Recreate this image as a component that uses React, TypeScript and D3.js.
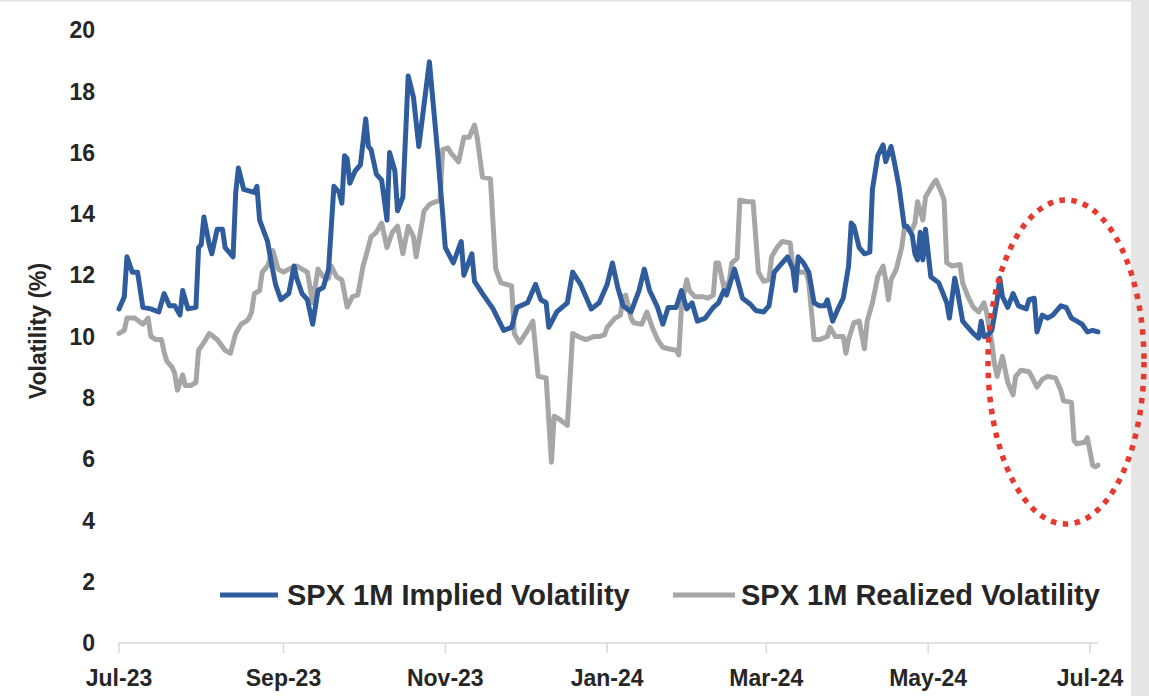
import React from "react";
import * as d3 from "d3";

const impliedVol: [string, number][] = [
  ["2023-07-01",10.9],["2023-07-03",11.3],["2023-07-04",12.6],["2023-07-06",12.1],["2023-07-08",12.1],["2023-07-10",10.95],["2023-07-13",10.9],["2023-07-16",10.8],["2023-07-18",11.4],["2023-07-20",11.0],["2023-07-22",11.0],["2023-07-24",10.7],["2023-07-25",11.5],["2023-07-27",10.9],["2023-07-30",10.95],["2023-07-31",12.9],
  ["2023-08-01",13.0],["2023-08-02",13.9],["2023-08-04",13.0],["2023-08-05",12.7],["2023-08-07",13.5],["2023-08-09",13.5],["2023-08-10",12.9],["2023-08-13",12.6],["2023-08-14",14.7],["2023-08-15",15.5],["2023-08-17",14.8],["2023-08-21",14.7],["2023-08-22",14.9],["2023-08-23",13.8],["2023-08-26",13.1],["2023-08-27",12.6],["2023-08-29",11.7],["2023-08-31",11.2],
  ["2023-09-03",11.4],["2023-09-05",12.3],["2023-09-06",11.9],["2023-09-08",11.4],["2023-09-10",11.2],["2023-09-12",10.4],["2023-09-14",11.5],["2023-09-16",11.6],["2023-09-18",12.2],["2023-09-20",14.9],["2023-09-22",14.7],["2023-09-23",14.35],["2023-09-24",15.9],["2023-09-25",15.8],["2023-09-26",15.0],["2023-09-28",15.4],["2023-09-30",15.6],
  ["2023-10-02",17.1],["2023-10-03",16.2],["2023-10-04",16.1],["2023-10-06",15.3],["2023-10-08",15.1],["2023-10-10",13.8],["2023-10-11",16.0],["2023-10-13",15.4],["2023-10-14",14.1],["2023-10-16",14.55],["2023-10-18",18.5],["2023-10-20",17.8],["2023-10-22",16.2],["2023-10-26",18.96],["2023-10-27",18.0],["2023-10-29",16.1],["2023-10-31",14.0],
  ["2023-11-01",12.9],["2023-11-04",12.4],["2023-11-07",13.1],["2023-11-08",12.0],["2023-11-11",12.7],["2023-11-12",11.8],["2023-11-15",11.4],["2023-11-19",10.9],["2023-11-23",10.2],["2023-11-26",10.3],["2023-11-28",10.95],
  ["2023-12-02",11.1],["2023-12-05",11.7],["2023-12-07",11.2],["2023-12-09",11.1],["2023-12-10",10.3],["2023-12-13",10.8],["2023-12-17",11.1],["2023-12-19",12.1],["2023-12-22",11.7],["2023-12-24",11.3],["2023-12-26",10.9],["2023-12-29",11.1],["2023-12-31",11.5],
  ["2024-01-01",11.7],["2024-01-03",12.4],["2024-01-05",11.6],["2024-01-07",11.0],["2024-01-10",10.8],["2024-01-13",11.5],["2024-01-15",12.2],["2024-01-17",11.5],["2024-01-20",10.95],["2024-01-22",10.4],["2024-01-24",10.95],["2024-01-27",10.95],["2024-01-29",11.5],["2024-01-31",10.9],
  ["2024-02-02",11.1],["2024-02-04",10.5],["2024-02-07",10.6],["2024-02-10",10.95],["2024-02-12",11.1],["2024-02-14",11.5],["2024-02-15",11.35],["2024-02-18",12.2],["2024-02-21",11.25],["2024-02-24",11.05],["2024-02-26",10.85],["2024-02-29",10.8],
  ["2024-03-02",11.0],["2024-03-04",12.1],["2024-03-07",12.4],["2024-03-09",12.6],["2024-03-11",12.2],["2024-03-12",11.5],["2024-03-13",12.6],["2024-03-15",12.4],["2024-03-17",12.1],["2024-03-19",11.1],["2024-03-21",11.0],["2024-03-23",11.0],["2024-03-24",11.2],["2024-03-26",10.5],["2024-03-28",10.9],["2024-03-30",11.25],
  ["2024-04-01",12.3],["2024-04-02",13.7],["2024-04-03",13.6],["2024-04-05",12.9],["2024-04-07",12.7],["2024-04-09",12.75],["2024-04-10",14.8],["2024-04-12",15.9],["2024-04-14",16.25],["2024-04-15",15.7],["2024-04-17",16.2],["2024-04-18",15.8],["2024-04-20",14.9],["2024-04-22",13.6],["2024-04-23",13.6],["2024-04-25",13.3],["2024-04-26",12.7],["2024-04-27",12.5],["2024-04-28",13.4],["2024-04-29",12.5],["2024-04-30",13.5],
  ["2024-05-02",11.95],["2024-05-05",11.75],["2024-05-08",11.1],["2024-05-09",10.6],["2024-05-11",11.9],["2024-05-12",11.5],["2024-05-14",10.5],["2024-05-16",10.3],["2024-05-18",10.1],["2024-05-20",9.95],["2024-05-21",10.5],["2024-05-22",10.0],["2024-05-23",10.0],["2024-05-25",10.2],["2024-05-27",11.2],["2024-05-28",11.9],["2024-05-29",11.3],["2024-05-31",10.95],
  ["2024-06-02",11.4],["2024-06-04",11.0],["2024-06-07",10.9],["2024-06-08",11.2],["2024-06-10",11.25],["2024-06-11",10.15],["2024-06-13",10.7],["2024-06-15",10.6],["2024-06-17",10.7],["2024-06-19",10.9],["2024-06-20",11.0],["2024-06-22",10.95],["2024-06-24",10.6],["2024-06-26",10.5],["2024-06-28",10.4],["2024-06-30",10.15],
  ["2024-07-02",10.2],["2024-07-04",10.15],
];

const realizedVol: [string, number][] = [
  ["2023-07-01",10.1],["2023-07-03",10.2],["2023-07-04",10.6],["2023-07-07",10.6],["2023-07-10",10.4],["2023-07-12",10.6],["2023-07-13",10.0],["2023-07-15",9.9],["2023-07-17",9.9],["2023-07-18",9.5],["2023-07-19",9.2],["2023-07-21",9.0],["2023-07-22",8.8],["2023-07-23",8.25],["2023-07-25",8.75],["2023-07-26",8.4],["2023-07-28",8.4],["2023-07-30",8.5],["2023-07-31",9.55],
  ["2023-08-02",9.8],["2023-08-04",10.1],["2023-08-07",9.9],["2023-08-10",9.55],["2023-08-12",9.45],["2023-08-14",10.1],["2023-08-16",10.4],["2023-08-18",10.5],["2023-08-19",10.6],["2023-08-20",10.8],["2023-08-21",11.4],["2023-08-23",11.5],["2023-08-24",12.1],["2023-08-26",12.3],["2023-08-28",12.8],["2023-08-30",12.2],
  ["2023-09-01",12.1],["2023-09-03",12.2],["2023-09-06",12.3],["2023-09-08",12.2],["2023-09-10",12.1],["2023-09-12",11.1],["2023-09-14",12.2],["2023-09-16",11.95],["2023-09-18",11.9],["2023-09-19",12.3],["2023-09-21",11.95],["2023-09-23",11.85],["2023-09-25",10.96],["2023-09-27",11.3],["2023-09-29",11.35],
  ["2023-10-01",12.3],["2023-10-02",12.6],["2023-10-04",13.25],["2023-10-06",13.4],["2023-10-08",13.7],["2023-10-10",12.9],["2023-10-12",13.4],["2023-10-14",13.6],["2023-10-16",12.7],["2023-10-18",13.6],["2023-10-20",13.25],["2023-10-21",12.6],["2023-10-24",14.1],["2023-10-26",14.3],["2023-10-27",14.35],["2023-10-30",14.45],["2023-10-31",16.1],
  ["2023-11-02",16.15],["2023-11-03",16.0],["2023-11-06",15.7],["2023-11-08",16.5],["2023-11-10",16.5],["2023-11-12",16.9],["2023-11-13",16.5],["2023-11-15",15.2],["2023-11-18",15.15],["2023-11-20",12.2],["2023-11-22",11.75],["2023-11-26",11.65],["2023-11-27",10.1],["2023-11-29",9.8],
  ["2023-12-02",10.2],["2023-12-04",10.5],["2023-12-06",8.7],["2023-12-09",8.65],["2023-12-11",5.9],["2023-12-12",7.4],["2023-12-14",7.3],["2023-12-17",7.1],["2023-12-19",10.1],["2023-12-21",10.0],["2023-12-24",9.9],["2023-12-27",10.0],["2023-12-29",10.0],["2023-12-31",10.05],
  ["2024-01-01",10.3],["2024-01-04",10.6],["2024-01-06",10.7],["2024-01-07",11.3],["2024-01-08",11.35],["2024-01-10",10.6],["2024-01-11",10.45],["2024-01-14",10.4],["2024-01-16",10.8],["2024-01-18",10.3],["2024-01-20",9.9],["2024-01-22",9.65],["2024-01-24",9.6],["2024-01-27",9.55],["2024-01-28",9.4],["2024-01-29",10.96],["2024-01-31",11.85],
  ["2024-02-01",11.5],["2024-02-03",11.3],["2024-02-06",11.3],["2024-02-08",11.25],["2024-02-10",11.35],["2024-02-11",12.4],["2024-02-12",12.4],["2024-02-14",11.6],["2024-02-16",11.8],["2024-02-17",12.4],["2024-02-19",12.55],["2024-02-20",14.45],["2024-02-23",14.4],["2024-02-25",14.4],["2024-02-27",12.1],["2024-02-29",11.8],
  ["2024-03-02",11.85],["2024-03-03",12.6],["2024-03-05",12.9],["2024-03-07",13.1],["2024-03-10",13.05],["2024-03-11",12.2],["2024-03-14",12.1],["2024-03-16",12.1],["2024-03-17",11.75],["2024-03-19",9.9],["2024-03-21",9.9],["2024-03-24",10.0],["2024-03-25",10.3],["2024-03-27",10.0],["2024-03-30",10.0],["2024-03-31",9.45],
  ["2024-04-01",9.9],["2024-04-03",10.45],["2024-04-05",10.5],["2024-04-07",9.6],["2024-04-08",10.5],["2024-04-10",11.1],["2024-04-12",11.95],["2024-04-14",12.3],["2024-04-15",11.85],["2024-04-16",11.2],["2024-04-17",11.85],["2024-04-19",12.2],["2024-04-21",12.9],["2024-04-22",13.5],["2024-04-25",13.5],["2024-04-26",13.7],["2024-04-27",14.4],["2024-04-29",13.8],["2024-04-30",14.55],
  ["2024-05-03",15.0],["2024-05-04",15.1],["2024-05-06",14.7],["2024-05-07",14.45],["2024-05-08",12.4],["2024-05-10",12.3],["2024-05-13",12.35],["2024-05-14",11.75],["2024-05-16",11.3],["2024-05-18",10.96],["2024-05-20",10.8],["2024-05-22",11.1],["2024-05-23",10.8],["2024-05-25",9.8],["2024-05-26",9.1],["2024-05-27",8.7],["2024-05-29",9.35],["2024-05-31",8.5],
  ["2024-06-02",8.1],["2024-06-03",8.7],["2024-06-05",8.9],["2024-06-08",8.85],["2024-06-09",8.7],["2024-06-11",8.35],["2024-06-13",8.6],["2024-06-15",8.7],["2024-06-18",8.65],["2024-06-20",8.25],["2024-06-21",7.9],["2024-06-24",7.85],["2024-06-25",6.6],["2024-06-26",6.5],["2024-06-29",6.55],["2024-06-30",6.7],
  ["2024-07-02",5.8],["2024-07-03",5.75],["2024-07-04",5.8],
];

const yTicks = [0, 2, 4, 6, 8, 10, 12, 14, 16, 18, 20];
const xTickDates = ["2023-07-01", "2023-09-01", "2023-11-01", "2024-01-01", "2024-03-01", "2024-05-01", "2024-07-01"];
const seriesNames = ["SPX 1M Implied Volatility", "SPX 1M Realized Volatility"];
const axisTitle = "Volatility (%)";

const W = 1149;
const H = 696;
const BLUE = "#2E5C9C";
const GRAY = "#A6A6A6";
const FONT = "'Liberation Sans', Arial, sans-serif";
const TXT = "#262626";

export default function App() {
  const parse = d3.timeParse("%Y-%m-%d");
  const fmt = d3.timeFormat("%b-%y");
  const x = d3.scaleTime().domain([parse("2023-07-01")!, parse("2024-07-01")!]).range([119, 1090]);
  const y = d3.scaleLinear().domain([0, 20]).range([643, 30]);
  const line = d3
    .line<[string, number]>()
    .x((d) => x(parse(d[0])!))
    .y((d) => y(d[1]));

  const axisEnd = x(parse("2024-07-04")!);

  return (
    <svg
      width={W}
      height={H}
      style={{ position: "fixed", left: 0, top: 0, background: "#fff" }}
      fontFamily={FONT}
    >
      <rect x={0} y={0} width={W} height={H} fill="#ffffff" />
      <rect x={0} y={0} width={W} height={1.5} fill="#e4e4e4" />
      <rect x={1131} y={0} width={W - 1131} height={H} fill="#e6e6e6" />

      {/* x axis */}
      <line x1={x(parse("2023-07-01")!) - 1} x2={axisEnd} y1={y(0)} y2={y(0)} stroke="#d9d9d9" strokeWidth={1.5} />
      {xTickDates.map((d) => {
        const xv = x(parse(d)!);
        return (
          <g key={d}>
            <line x1={xv} x2={xv} y1={y(0)} y2={y(0) + 10} stroke="#d9d9d9" strokeWidth={1.5} />
            <text x={xv} y={686} textAnchor="middle" fontSize={23} fontWeight={700} fill={TXT}>
              {fmt(parse(d)!)}
            </text>
          </g>
        );
      })}

      {/* y axis labels */}
      {yTicks.map((t) => (
        <text key={t} x={95} y={y(t)} dy="0.36em" textAnchor="end" fontSize={23} fontWeight={700} fill={TXT}>
          {t}
        </text>
      ))}
      <text
        transform={`translate(46, 331) rotate(-90)`}
        textAnchor="middle"
        fontSize={23}
        fontWeight={700}
        fill={TXT}
      >
        {axisTitle}
      </text>

      {/* series */}
      <path d={line(realizedVol) || ""} fill="none" stroke={GRAY} strokeWidth={5} strokeLinejoin="round" strokeLinecap="round" />
      <path d={line(impliedVol) || ""} fill="none" stroke={BLUE} strokeWidth={5} strokeLinejoin="round" strokeLinecap="round" />

      {/* legend */}
      <line x1={220} x2={278} y1={595} y2={595} stroke={BLUE} strokeWidth={5} />
      <text x={287} y={605} fontSize={29} fontWeight={700} fill={TXT}>{seriesNames[0]}</text>
      <line x1={673} x2={735} y1={595} y2={595} stroke={GRAY} strokeWidth={5} />
      <text x={741} y={605} fontSize={29} fontWeight={700} fill={TXT}>{seriesNames[1]}</text>

      {/* highlight ellipse */}
      <ellipse cx={1066} cy={362} rx={78} ry={162} fill="none" stroke="#E6392F" strokeWidth={5.5} strokeDasharray="5.5 6.5" />
    </svg>
  );
}
